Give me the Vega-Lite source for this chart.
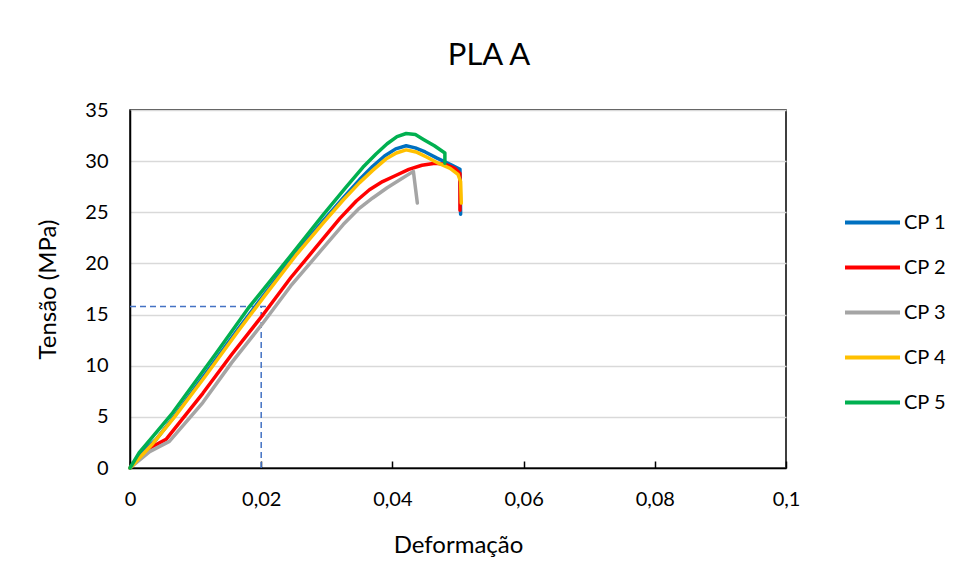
{
  "$schema": "https://vega.github.io/schema/vega-lite/v6.json",
  "autosize": "none",
  "width": 656,
  "height": 358,
  "padding": {"left": 130, "top": 110, "right": 173, "bottom": 113},
  "background": "white",
  "config": {
    "font": "Lato",
    "view": {"stroke": "black", "strokeWidth": 1.5},
    "axis": {"labelFont": "Lato", "titleFont": "Lato", "labelColor": "black", "titleColor": "black", "titleFontWeight": "normal"}
  },
  "title": {"text": "PLA A", "font": "Lato", "fontSize": 31, "fontWeight": "normal", "color": "black", "anchor": "middle", "frame": "group", "dx": 31, "offset": 4, "baseline": "alphabetic"},
  "datasets": {
    "curves": [
      {"cp": "CP 1", "i": 0, "x": 0, "y": 0},
      {"cp": "CP 1", "i": 1, "x": 0.0018, "y": 1.5},
      {"cp": "CP 1", "i": 2, "x": 0.004, "y": 2.8},
      {"cp": "CP 1", "i": 3, "x": 0.0068, "y": 5.1},
      {"cp": "CP 1", "i": 4, "x": 0.0115, "y": 9.2},
      {"cp": "CP 1", "i": 5, "x": 0.0165, "y": 13.6},
      {"cp": "CP 1", "i": 6, "x": 0.0205, "y": 17.0},
      {"cp": "CP 1", "i": 7, "x": 0.0253, "y": 21.0},
      {"cp": "CP 1", "i": 8, "x": 0.0295, "y": 24.2},
      {"cp": "CP 1", "i": 9, "x": 0.0325, "y": 26.4},
      {"cp": "CP 1", "i": 10, "x": 0.035, "y": 28.2},
      {"cp": "CP 1", "i": 11, "x": 0.037, "y": 29.5},
      {"cp": "CP 1", "i": 12, "x": 0.0388, "y": 30.5},
      {"cp": "CP 1", "i": 13, "x": 0.0405, "y": 31.2},
      {"cp": "CP 1", "i": 14, "x": 0.0421, "y": 31.5},
      {"cp": "CP 1", "i": 15, "x": 0.0435, "y": 31.3},
      {"cp": "CP 1", "i": 16, "x": 0.045, "y": 30.9},
      {"cp": "CP 1", "i": 17, "x": 0.0468, "y": 30.3},
      {"cp": "CP 1", "i": 18, "x": 0.0488, "y": 29.7},
      {"cp": "CP 1", "i": 19, "x": 0.0503, "y": 29.2},
      {"cp": "CP 1", "i": 20, "x": 0.0504, "y": 24.8},
      {"cp": "CP 2", "i": 0, "x": 0, "y": 0},
      {"cp": "CP 2", "i": 1, "x": 0.003, "y": 1.95},
      {"cp": "CP 2", "i": 2, "x": 0.0055, "y": 2.8},
      {"cp": "CP 2", "i": 3, "x": 0.0111, "y": 7.3},
      {"cp": "CP 2", "i": 4, "x": 0.0155, "y": 11.1},
      {"cp": "CP 2", "i": 5, "x": 0.0203, "y": 15.0},
      {"cp": "CP 2", "i": 6, "x": 0.0245, "y": 18.6},
      {"cp": "CP 2", "i": 7, "x": 0.0289, "y": 22.0},
      {"cp": "CP 2", "i": 8, "x": 0.032, "y": 24.4},
      {"cp": "CP 2", "i": 9, "x": 0.0345, "y": 26.1},
      {"cp": "CP 2", "i": 10, "x": 0.0365, "y": 27.2},
      {"cp": "CP 2", "i": 11, "x": 0.0385, "y": 28.0},
      {"cp": "CP 2", "i": 12, "x": 0.0405, "y": 28.6},
      {"cp": "CP 2", "i": 13, "x": 0.0425, "y": 29.2},
      {"cp": "CP 2", "i": 14, "x": 0.0445, "y": 29.6},
      {"cp": "CP 2", "i": 15, "x": 0.0465, "y": 29.8},
      {"cp": "CP 2", "i": 16, "x": 0.048, "y": 29.7},
      {"cp": "CP 2", "i": 17, "x": 0.0495, "y": 29.3},
      {"cp": "CP 2", "i": 18, "x": 0.0503, "y": 28.8},
      {"cp": "CP 2", "i": 19, "x": 0.0503, "y": 25.2},
      {"cp": "CP 3", "i": 0, "x": 0, "y": 0},
      {"cp": "CP 3", "i": 1, "x": 0.003, "y": 1.6},
      {"cp": "CP 3", "i": 2, "x": 0.006, "y": 2.6},
      {"cp": "CP 3", "i": 3, "x": 0.0111, "y": 6.4},
      {"cp": "CP 3", "i": 4, "x": 0.0155, "y": 10.3},
      {"cp": "CP 3", "i": 5, "x": 0.0203, "y": 14.2},
      {"cp": "CP 3", "i": 6, "x": 0.0245, "y": 17.8},
      {"cp": "CP 3", "i": 7, "x": 0.0289, "y": 21.1},
      {"cp": "CP 3", "i": 8, "x": 0.0325, "y": 23.8},
      {"cp": "CP 3", "i": 9, "x": 0.0348, "y": 25.3},
      {"cp": "CP 3", "i": 10, "x": 0.037, "y": 26.4},
      {"cp": "CP 3", "i": 11, "x": 0.0392, "y": 27.4},
      {"cp": "CP 3", "i": 12, "x": 0.0412, "y": 28.2},
      {"cp": "CP 3", "i": 13, "x": 0.0432, "y": 29.0},
      {"cp": "CP 3", "i": 14, "x": 0.0438, "y": 25.9},
      {"cp": "CP 4", "i": 0, "x": 0, "y": 0},
      {"cp": "CP 4", "i": 1, "x": 0.0035, "y": 2.4},
      {"cp": "CP 4", "i": 2, "x": 0.0068, "y": 5.0},
      {"cp": "CP 4", "i": 3, "x": 0.0115, "y": 9.0},
      {"cp": "CP 4", "i": 4, "x": 0.0165, "y": 13.4},
      {"cp": "CP 4", "i": 5, "x": 0.0205, "y": 16.8},
      {"cp": "CP 4", "i": 6, "x": 0.0253, "y": 20.8},
      {"cp": "CP 4", "i": 7, "x": 0.0295, "y": 24.0},
      {"cp": "CP 4", "i": 8, "x": 0.0325, "y": 26.2},
      {"cp": "CP 4", "i": 9, "x": 0.035, "y": 27.9},
      {"cp": "CP 4", "i": 10, "x": 0.037, "y": 29.1},
      {"cp": "CP 4", "i": 11, "x": 0.039, "y": 30.2},
      {"cp": "CP 4", "i": 12, "x": 0.0406, "y": 30.8},
      {"cp": "CP 4", "i": 13, "x": 0.0421, "y": 31.1},
      {"cp": "CP 4", "i": 14, "x": 0.0436, "y": 30.9},
      {"cp": "CP 4", "i": 15, "x": 0.0452, "y": 30.4},
      {"cp": "CP 4", "i": 16, "x": 0.047, "y": 29.8},
      {"cp": "CP 4", "i": 17, "x": 0.0488, "y": 29.3},
      {"cp": "CP 4", "i": 18, "x": 0.05, "y": 28.7},
      {"cp": "CP 4", "i": 19, "x": 0.0504, "y": 28.0},
      {"cp": "CP 4", "i": 20, "x": 0.0505, "y": 25.9},
      {"cp": "CP 5", "i": 0, "x": 0, "y": 0},
      {"cp": "CP 5", "i": 1, "x": 0.0014, "y": 1.5},
      {"cp": "CP 5", "i": 2, "x": 0.0035, "y": 3.1},
      {"cp": "CP 5", "i": 3, "x": 0.0065, "y": 5.4},
      {"cp": "CP 5", "i": 4, "x": 0.0131, "y": 11.2},
      {"cp": "CP 5", "i": 5, "x": 0.018, "y": 15.6},
      {"cp": "CP 5", "i": 6, "x": 0.0248, "y": 21.0},
      {"cp": "CP 5", "i": 7, "x": 0.0295, "y": 24.8},
      {"cp": "CP 5", "i": 8, "x": 0.033, "y": 27.5},
      {"cp": "CP 5", "i": 9, "x": 0.0355, "y": 29.4},
      {"cp": "CP 5", "i": 10, "x": 0.0375, "y": 30.7},
      {"cp": "CP 5", "i": 11, "x": 0.0392, "y": 31.7},
      {"cp": "CP 5", "i": 12, "x": 0.0407, "y": 32.4},
      {"cp": "CP 5", "i": 13, "x": 0.0421, "y": 32.7},
      {"cp": "CP 5", "i": 14, "x": 0.0435, "y": 32.6},
      {"cp": "CP 5", "i": 15, "x": 0.0448, "y": 32.1},
      {"cp": "CP 5", "i": 16, "x": 0.0464, "y": 31.5},
      {"cp": "CP 5", "i": 17, "x": 0.048, "y": 30.8},
      {"cp": "CP 5", "i": 18, "x": 0.048, "y": 29.8}
    ],
    "guides": [
      {"g": "h", "x": 0, "y": 15.8},
      {"g": "h", "x": 0.0215, "y": 15.8},
      {"g": "v", "x": 0.02, "y": 0},
      {"g": "v", "x": 0.02, "y": 15.8}
    ]
  },
  "layer": [
    {
      "data": {"name": "guides"},
      "mark": {"type": "line", "color": "#4472C4", "strokeWidth": 1.5, "strokeDash": [6, 4]},
      "encoding": {
        "x": {"field": "x", "type": "quantitative"},
        "y": {"field": "y", "type": "quantitative"},
        "detail": {"field": "g"}
      }
    },
    {
      "data": {"name": "curves"},
      "mark": {"type": "line", "strokeWidth": 3.5, "strokeCap": "round", "strokeJoin": "round"},
      "encoding": {
        "x": {
          "field": "x", "type": "quantitative",
          "scale": {"domain": [0, 0.1], "nice": false, "zero": true},
          "axis": {
            "title": "Deformação", "titleFontSize": 24, "titlePadding": 24,
            "values": [0, 0.02, 0.04, 0.06, 0.08, 0.1],
            "labelExpr": "replace(format(datum.value, '~g'), '.', ',')",
            "labelFontSize": 20, "labelPadding": 28, "labelFlush": false,
            "grid": false, "domainColor": "black", "domainWidth": 1.5,
            "tickColor": "black", "tickSize": -7, "tickWidth": 1.5
          }
        },
        "y": {
          "field": "y", "type": "quantitative",
          "scale": {"domain": [0, 35], "nice": false},
          "axis": {
            "title": "Tensão (MPa)", "titleFontSize": 24, "titlePadding": 24,
            "values": [0, 5, 10, 15, 20, 25, 30, 35],
            "labelFontSize": 20, "labelPadding": 22,
            "ticks": false, "grid": true, "gridColor": "#d9d9d9", "gridWidth": 1.5,
            "domainColor": "black", "domainWidth": 1.5
          }
        },
        "color": {
          "field": "cp", "type": "nominal",
          "scale": {"domain": ["CP 1", "CP 2", "CP 3", "CP 4", "CP 5"], "range": ["#0070C0", "#FF0000", "#A5A5A5", "#FFC000", "#00B050"]},
          "legend": {
            "title": null, "orient": "none", "legendX": 713, "legendY": 83,
            "symbolType": "stroke", "symbolSize": 3025, "symbolStrokeWidth": 4,
            "labelFont": "Lato", "labelFontSize": 20, "labelColor": "black", "labelOffset": 2,
            "rowPadding": 5
          }
        },
        "order": {"field": "i", "type": "quantitative"}
      }
    }
  ]
}
